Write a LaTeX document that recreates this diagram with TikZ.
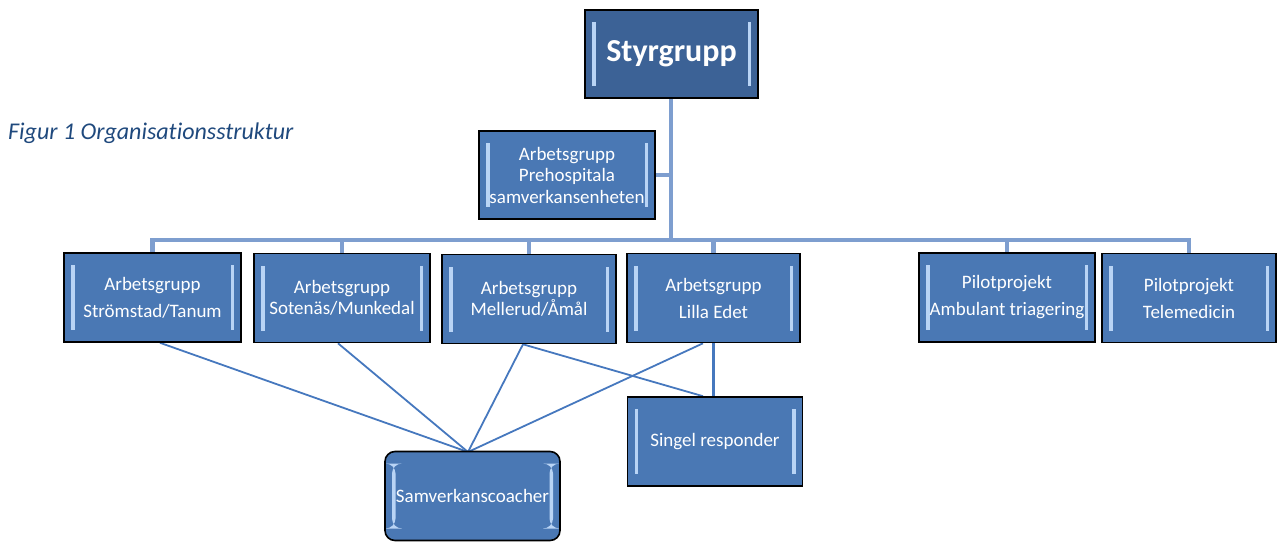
\documentclass[tikz,border=0pt]{standalone}
\usepackage{fontspec}
\setmainfont{Carlito}
\usetikzlibrary{calc,backgrounds}
\definecolor{boxblue}{RGB}{74,120,180}
\definecolor{topblue}{RGB}{60,98,150}
\definecolor{busblue}{RGB}{126,158,207}
\definecolor{thinblue}{RGB}{70,120,190}
\definecolor{bevelc}{RGB}{185,212,245}
\definecolor{capblue}{RGB}{31,73,125}
\tikzset{
  bevelbox/.style={draw=black, line width=1.6pt, fill=boxblue, text=white,
    minimum width=#1, minimum height=89pt, inner sep=0pt, align=center,
    font=\fontsize{19}{21.5}\selectfont,
    path picture={
      \fill[bevelc] ([xshift=7pt,yshift=-12pt]path picture bounding box.north west) rectangle ([xshift=10.5pt,yshift=12pt]path picture bounding box.south west);
      \fill[bevelc] ([xshift=-10.5pt,yshift=-12pt]path picture bounding box.north east) rectangle ([xshift=-7pt,yshift=12pt]path picture bounding box.south east);
    }},
  bevelbox/.default=175pt,
  bus/.style={draw=busblue, line width=4.5pt},
  thin/.style={draw=thinblue, line width=1.8pt}
}
\begin{document}
\begin{tikzpicture}[x=1pt,y=1pt]
\useasboundingbox (0,0) rectangle (1277,-541);
% caption
\node[anchor=base west, inner sep=0pt, text=capblue, font=\fontsize{24}{28}\selectfont\itshape\addfontfeature{Ligatures=NoCommon}] (cap) at (8,-139) {Figur 1 Organisationsstruktur};
% nodes
\node[bevelbox=173pt, minimum height=88pt, fill=topblue, font=\fontsize{32}{36}\selectfont\bfseries] (sty) at (671.5,-54) {Styrgrupp};
\node[bevelbox=176pt, minimum height=88pt] (pre) at (567,-175) {Arbetsgrupp\\Prehospitala\\samverkansenheten};
\node[bevelbox=177pt, font=\fontsize{19}{27}\selectfont] (strom) at (152.5,-297.5) {Arbetsgrupp\\Strömstad/Tanum};
\node[bevelbox=176pt] (sot) at (342,-298) {Arbetsgrupp\\Sotenäs/Munkedal};
\node[bevelbox=174pt] (mel) at (529,-299) {Arbetsgrupp\\Mellerud/Åmål};
\node[bevelbox=173pt, font=\fontsize{19}{27}\selectfont] (lil) at (713.5,-298) {Arbetsgrupp\\Lilla Edet};
\node[bevelbox=176pt, font=\fontsize{19}{27}\selectfont] (amb) at (1007,-297.5) {Pilotprojekt\\Ambulant triagering};
\node[bevelbox=174pt, font=\fontsize{19}{27}\selectfont] (tel) at (1189,-298) {Pilotprojekt\\Telemedicin};
\node[bevelbox=175pt] (sing) at (715,-441.5) {Singel responder};
\node[bevelbox=175pt, rounded corners=10pt] (samv) at (472.5,-496) {Samverkanscoacher};
\coordinate (j) at (671,-240);
\coordinate (sc) at (468,-452);
% connectors
\begin{scope}[on background layer]
\draw[bus] (sty.south -| j) -- (j);
\draw[bus] (pre.east) -- (pre.east -| j);
\draw[bus] ([xshift=-2.25pt]strom.north |- j) -- ([xshift=2.25pt]tel.north |- j);
\foreach \n in {strom,sot,mel,lil,amb,tel}
  \draw[bus] (\n.north) -- (\n.north |- j);
\draw[thin] ($(strom.south)+(7.5,0)$) -- (sc);
\draw[thin] ($(sot.south)+(-4,0)$) -- (sc);
\draw[thin] ($(mel.south)+(-6,0)$) -- (sc);
\draw[thin] ($(lil.south)+(-10.5,0)$) -- (sc);
\draw[thin] ($(mel.south)+(-6,0)$) -- ($(sing.north)+(-12,0)$);
\draw[thin, line width=2.4pt] (lil.south) -- (lil.south |- sing.north);
\end{scope}
\end{tikzpicture}
\end{document}
